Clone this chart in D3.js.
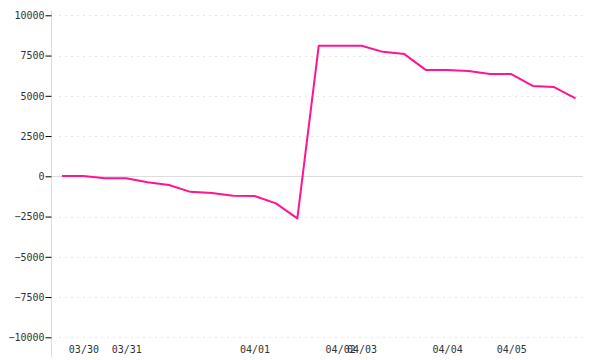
<!DOCTYPE html>
<html>
<head>
<meta charset="utf-8">
<script src="https://cdn.jsdelivr.net/npm/d3@7"></script>
<style>
  html, body { margin: 0; padding: 0; background: #fff; }
  text { font-family: "DejaVu Sans Mono", "Liberation Mono", monospace; font-size: 10px; fill: #333; }
</style>
</head>
<body>
<svg id="chart" width="600" height="360"></svg>
<script>
// Point indices (one value per sample)
const points = d3.range(25);
const values = [20, 20, -120, -120, -370, -540, -965, -1040, -1210, -1225, -1680, -2610,
                8110, 8110, 8110, 7730, 7590, 6610, 6600, 6535, 6350, 6350, 5610, 5540, 4835];
// X tick labels shown at the first sample of each day
const xTickIndex = [1, 3, 9, 13, 14, 18, 21];
const xTickLabels = ["03/30", "03/31", "04/01", "04/02", "04/03", "04/04", "04/05"];
const yTicks = [-10000, -7500, -5000, -2500, 0, 2500, 5000, 7500, 10000];

const svg = d3.select("#chart");
const mLeft = 51, mRight = 583, mTop = 15.3, mBottom = 337.3;

const x = d3.scalePoint().domain(points).range([mLeft + 11, mRight - 7.5]);
const y = d3.scaleLinear().domain([-10000, 10000]).range([mBottom, mTop]);

// grid lines
svg.append("g").selectAll("line")
  .data(yTicks.filter(d => d !== 0))
  .join("line")
  .attr("x1", mLeft + 8).attr("x2", mRight)
  .attr("y1", d => Math.round(y(d)) + 0.5).attr("y2", d => Math.round(y(d)) + 0.5)
  .attr("stroke", "#e6e6e6").attr("stroke-width", 1).attr("stroke-dasharray", "2,4");

// zero line
svg.append("line")
  .attr("x1", mLeft).attr("x2", mRight)
  .attr("y1", Math.round(y(0)) + 0.5).attr("y2", Math.round(y(0)) + 0.5)
  .attr("stroke", "#dddddd").attr("stroke-width", 1);

// y axis
const yAxis = d3.axisLeft(y).tickValues(yTicks).tickFormat(d3.format("d")).tickSize(6).tickPadding(1);
const gy = svg.append("g").attr("transform", `translate(${mLeft + 0.5},0)`).call(yAxis);
gy.select(".domain").attr("stroke", "#dddddd").attr("d", `M0,${mTop - 5}V${mBottom + 20}`);
gy.selectAll(".tick line").attr("stroke", "#000");
gy.selectAll(".tick text").style("fill", "#333");

// x axis labels
const xAxis = d3.axisBottom(x).tickValues(xTickIndex)
  .tickFormat((d) => xTickLabels[xTickIndex.indexOf(d)]).tickSize(0).tickPadding(0);
const gx = svg.append("g").attr("transform", `translate(0,${mBottom + 6})`).call(xAxis);
gx.select(".domain").remove();
gx.selectAll(".tick text").attr("dy", "0.95em").style("fill", "#333");

// line
const line = d3.line().x((d, i) => x(points[i])).y(d => y(d));
svg.append("path")
  .datum(values)
  .attr("d", line)
  .attr("fill", "none")
  .attr("stroke", "#ff1493")
  .attr("stroke-width", 2)
  .attr("stroke-linejoin", "round");
</script>
</body>
</html>
